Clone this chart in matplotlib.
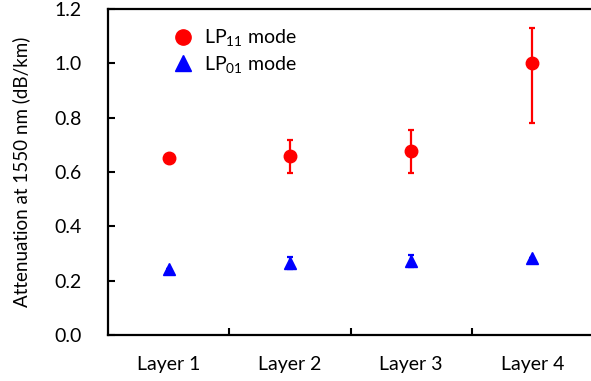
import matplotlib
matplotlib.use("Agg")
import matplotlib.pyplot as plt
from matplotlib.lines import Line2D
import numpy as np

plt.rcParams['font.family'] = ['Lato', 'DejaVu Sans']
plt.rcParams['mathtext.fontset'] = 'custom'
plt.rcParams['mathtext.rm'] = 'Lato'

layers = ["Layer 1", "Layer 2", "Layer 3", "Layer 4"]

# LP11 attenuation and error bar limits
lp11 = [0.65, 0.66, 0.676, 1.0]
lp11_lo = [0.0, 0.063, 0.08, 0.22]
lp11_hi = [0.0, 0.059, 0.08, 0.13]

# LP01 attenuation and error bar limits
lp01 = [0.243, 0.264, 0.272, 0.282]
lp01_lo = [0.0, 0.02, 0.02, 0.0]
lp01_hi = [0.0, 0.022, 0.021, 0.0]

x = np.arange(1, len(layers) + 1)

fig = plt.figure(figsize=(5.91, 3.81), dpi=100)
ax = fig.add_axes([108 / 591, 46 / 381, 485 / 591, 326 / 381])

ax.errorbar(x, lp11, yerr=[lp11_lo, lp11_hi], fmt='o', color='#ff0000',
            ms=9, elinewidth=1.6, capsize=2.2, capthick=1.6)
ax.errorbar(x, lp01, yerr=[lp01_lo, lp01_hi], fmt='^', color='#0000ff',
            ms=9, elinewidth=1.6, capsize=2.2, capthick=1.6)

ax.set_xlim(0.5, 4.5)
ax.set_ylim(0, 1.2)
yt = np.arange(0, 1.21, 0.2)
ax.set_yticks(yt)
ax.set_yticklabels([f"{v:.1f}" for v in yt])
ax.set_xticks([1.5, 2.5, 3.5])
ax.set_xticklabels([])
ax.set_xticks(x, minor=True)
ax.set_xticklabels(layers, minor=True)
ax.tick_params(axis='x', which='major', direction='in', length=5, width=1.5)
ax.tick_params(axis='x', which='minor', length=0, pad=15, labelsize=14)
ax.tick_params(axis='y', direction='in', length=5, width=1.5, labelsize=14, pad=19)

for s in ['left', 'bottom', 'top']:
    ax.spines[s].set_linewidth(1.6)
ax.spines['right'].set_visible(False)

ax.set_ylabel('Attenuation at 1550 nm (dB/km)', fontsize=13.5, labelpad=17)

handles = [
    Line2D([], [], ls='none', marker='o', color='#ff0000', ms=11),
    Line2D([], [], ls='none', marker='^', color='#0000ff', ms=11),
]
ax.legend(handles, [r'LP$_{11}$ mode', r'LP$_{01}$ mode'], loc='upper left',
          bbox_to_anchor=(0.094, 0.995), frameon=False, fontsize=14,
          handletextpad=0.5, labelspacing=0.25, handlelength=1.2)

fig.savefig('out.png', dpi=100)
